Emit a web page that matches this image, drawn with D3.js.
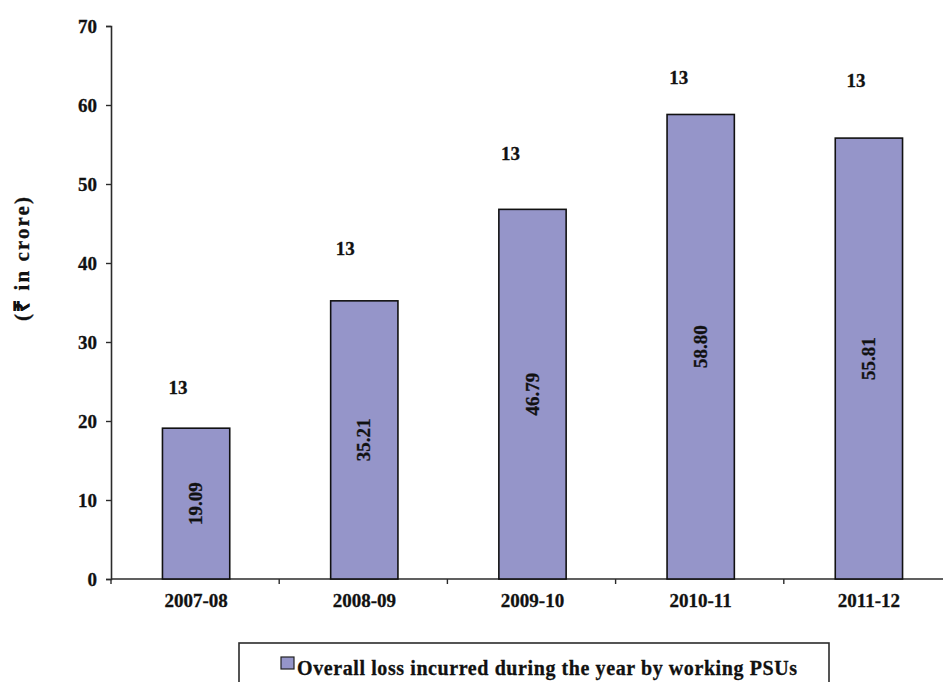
<!DOCTYPE html>
<html>
<head>
<meta charset="utf-8">
<script src="https://cdn.jsdelivr.net/npm/d3@7"></script>
<style>
  html, body { margin: 0; padding: 0; background: #fff; }
  svg { display: block; }
  text { font-family: "Liberation Serif", "Times New Roman", serif; font-weight: bold; fill: #111; stroke: #111; stroke-width: 0.3px; }
</style>
</head>
<body>
<svg id="chart" width="943" height="682"></svg>
<script>
// Overall loss of working PSUs (₹ in crore) by year
const years = ["2007-08", "2008-09", "2009-10", "2010-11", "2011-12"];
const lossValues = [19.09, 35.21, 46.79, 58.80, 55.81];
const lossLabels = ["19.09", "35.21", "46.79", "58.80", "55.81"];
const psuCounts = [13, 13, 13, 13, 13];
const yTicks = [0, 10, 20, 30, 40, 50, 60, 70];
const legendText = "Overall loss incurred during the year by working PSUs";

// Placement of the PSU-count labels (height in axis units, shift from bar centre in px)
const countLabelLevel = [24.3, 41.9, 53.9, 63.5, 63.2];
const countLabelShift = [-18, -19, -22, -22, -13];

const svg = d3.select("#chart");
const axisColor = "#2b2b2b";
const barFill = "#9595c9";

const x = d3.scaleBand().domain(years).range([112, 953]).paddingInner(0.6).paddingOuter(0.3);
const y = d3.scaleLinear().domain([0, 70]).range([579, 26]);

// y axis
const yAxis = svg.append("g")
  .attr("transform", "translate(111,0)")
  .call(d3.axisLeft(y).tickValues(yTicks).tickSize(5).tickPadding(9).tickFormat(d3.format("d")));
yAxis.select(".domain").attr("stroke", axisColor).attr("stroke-width", 1.6);
yAxis.selectAll(".tick line").attr("stroke", axisColor).attr("stroke-width", 1.4);
yAxis.selectAll(".tick text").attr("font-size", 19).attr("font-family", "Liberation Serif, serif").attr("font-weight", "bold").attr("fill", "#111");

// x axis with ticks at category boundaries
const step = x.step();
const bounds = d3.range(years.length + 1).map(i => 111 + i * step);
const xg = svg.append("g");
xg.append("line")
  .attr("x1", 111).attr("x2", 952)
  .attr("y1", y(0)).attr("y2", y(0))
  .attr("stroke", axisColor).attr("stroke-width", 1.6);
xg.selectAll("line.tk").data(bounds).join("line")
  .attr("class", "tk")
  .attr("x1", d => d).attr("x2", d => d)
  .attr("y1", y(0)).attr("y2", y(0) + 5)
  .attr("stroke", axisColor).attr("stroke-width", 1.4);
xg.selectAll("text").data(years).join("text")
  .attr("x", d => x(d) + x.bandwidth() / 2)
  .attr("y", y(0) + 28)
  .attr("text-anchor", "middle")
  .attr("font-size", 19)
  .text(d => d);

// bars
const data = years.map((yr, i) => ({ yr, v: lossValues[i], lbl: lossLabels[i], n: psuCounts[i], i }));
svg.append("g").selectAll("rect").data(data).join("rect")
  .attr("x", d => x(d.yr))
  .attr("y", d => y(d.v))
  .attr("width", x.bandwidth())
  .attr("height", d => y(0) - y(d.v))
  .attr("fill", barFill)
  .attr("stroke", "#111")
  .attr("stroke-width", 1.6);

// values written vertically inside each bar
svg.append("g").selectAll("text").data(data).join("text")
  .attr("transform", d => `translate(${x(d.yr) + x.bandwidth() / 2 + 6},${(y(d.v) + y(0)) / 2}) rotate(-90)`)
  .attr("text-anchor", "middle")
  .attr("font-size", 19)
  .text(d => d.lbl);

// number of PSUs above the bars
svg.append("g").selectAll("text").data(data).join("text")
  .attr("x", d => x(d.yr) + x.bandwidth() / 2 + countLabelShift[d.i])
  .attr("y", d => y(countLabelLevel[d.i]) + 7)
  .attr("text-anchor", "middle")
  .attr("font-size", 19)
  .text(d => d.n);

// y axis title
svg.append("text")
  .attr("transform", "translate(29,259) rotate(-90)")
  .attr("text-anchor", "middle")
  .attr("font-size", 21)
  .attr("textLength", 124)
  .attr("lengthAdjust", "spacing")
  .text("(₹ in crore)");

// legend
const lg = svg.append("g");
lg.append("rect")
  .attr("x", 239).attr("y", 643).attr("width", 590).attr("height", 60)
  .attr("fill", "none").attr("stroke", axisColor).attr("stroke-width", 1.6);
lg.append("rect")
  .attr("x", 281).attr("y", 657).attr("width", 13).attr("height", 12)
  .attr("fill", barFill).attr("stroke", "#222").attr("stroke-width", 1.2);
lg.append("text")
  .attr("x", 297).attr("y", 675)
  .attr("font-size", 20)
  .attr("textLength", 500)
  .attr("lengthAdjust", "spacing")
  .text(legendText);
</script>
</body>
</html>
